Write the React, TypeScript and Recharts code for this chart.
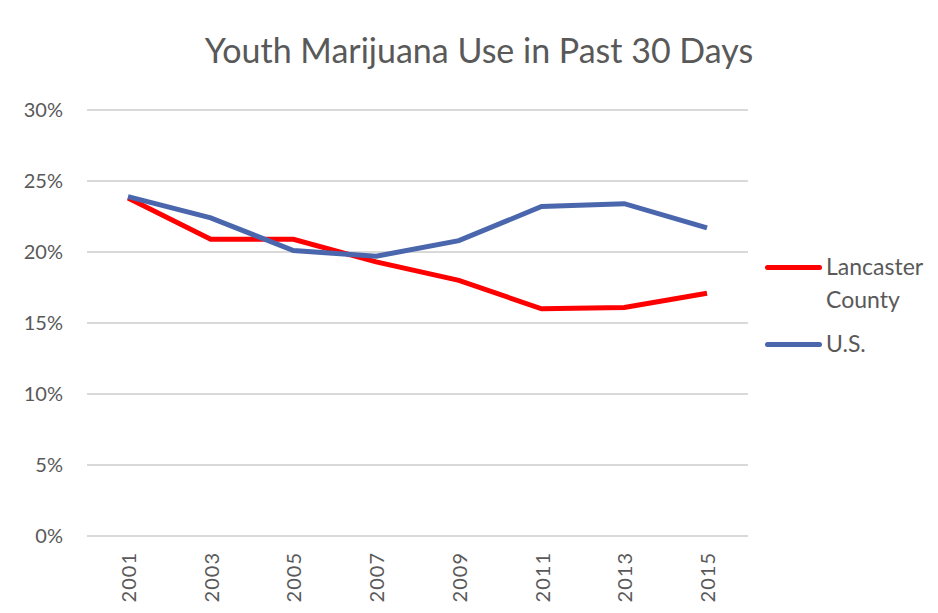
import React from "react";
import { LineChart, Line, XAxis, YAxis, CartesianGrid, Legend } from "recharts";

const years = ["2001", "2003", "2005", "2007", "2009", "2011", "2013", "2015"];
const lancaster = [23.8, 20.9, 20.9, 19.3, 18.0, 16.0, 16.1, 17.1];
const us = [23.9, 22.4, 20.1, 19.7, 20.8, 23.2, 23.4, 21.7];
const yTicks = [0, 5, 10, 15, 20, 25, 30];
const seriesNames = ["Lancaster County", "U.S."];
const seriesColors = ["#FF0000", "#4A66AC"];

const data = years.map((y, i) => ({ year: y, lancaster: lancaster[i], us: us[i] }));

const FONT = "Lato, 'Liberation Sans', sans-serif";
const TEXT = "#595959";

const XTick = (props: any) => {
  const { x, y, payload } = props;
  return (
    <text
      transform={`translate(${x},${y + 16}) rotate(-90)`}
      textAnchor="end"
      dominantBaseline="central"
      fill={TEXT}
      fontFamily={FONT}
      fontSize={20}
      letterSpacing={1}
    >
      {payload.value}
    </text>
  );
};

const LegendContent = (props: any) => {
  const { payload } = props;
  return (
    <div style={{ fontFamily: FONT, fontSize: 23, color: TEXT }}>
      {payload.map((p: any, i: number) => (
        <div key={i} style={{ display: "flex", alignItems: "flex-start", marginBottom: i === 0 ? 11 : 0 }}>
          <div style={{ width: 57, height: 5, background: p.color, borderRadius: 3, marginTop: 15, marginRight: 4, flexShrink: 0 }} />
          <div style={{ width: 110, lineHeight: "33px" }}>{p.value}</div>
        </div>
      ))}
    </div>
  );
};

export default function App() {
  return (
    <div style={{ position: "relative", width: 938, height: 613, margin: -8, background: "#fff", overflow: "hidden" }}>
      <div
        style={{
          position: "absolute",
          left: 6,
          top: 4,
          width: 940,
          height: 620,
          borderLeft: "2px solid #d9d9d9",
          borderTop: "2px solid #d9d9d9",
        }}
      />
      <div
        style={{
          position: "absolute",
          left: 0,
          width: 958,
          top: 29,
          textAlign: "center",
          fontFamily: FONT,
          fontSize: 34,
          color: TEXT,
          lineHeight: "42px",
        }}
      >
        Youth Marijuana Use in Past 30 Days
      </div>
      <div style={{ position: "absolute", left: 0, top: 0 }}>
        <LineChart width={938} height={613} data={data} margin={{ top: 110, right: 190, bottom: 17, left: 27 }}>
          <CartesianGrid horizontal vertical={false} stroke="#d9d9d9" strokeWidth={2} />
          <XAxis
            dataKey="year"
            axisLine={false}
            tickLine={false}
            tickSize={0}
            tickMargin={0}
            height={60}
            interval={0}
            padding={{ left: 41, right: 41 }}
            tick={<XTick />}
          />
          <YAxis
            domain={[0, 30]}
            ticks={yTicks}
            axisLine={false}
            tickLine={false}
            tickSize={0}
            tickMargin={24}
            width={60}
            tickFormatter={(v: number) => `${v}%`}
            tick={{ fill: TEXT, fontFamily: FONT, fontSize: 20 }}
          />
          <Legend
            layout="vertical"
            align="center"
            verticalAlign="middle"
            content={<LegendContent />}
            wrapperStyle={{ position: "absolute", left: 765, top: 250, width: 173 }}
          />
          <Line
            type="linear"
            dataKey="lancaster"
            name={seriesNames[0]}
            stroke={seriesColors[0]}
            strokeWidth={5}
            dot={false}
            isAnimationActive={false}
          />
          <Line
            type="linear"
            dataKey="us"
            name={seriesNames[1]}
            stroke={seriesColors[1]}
            strokeWidth={5}
            dot={false}
            isAnimationActive={false}
          />
        </LineChart>
      </div>
    </div>
  );
}
